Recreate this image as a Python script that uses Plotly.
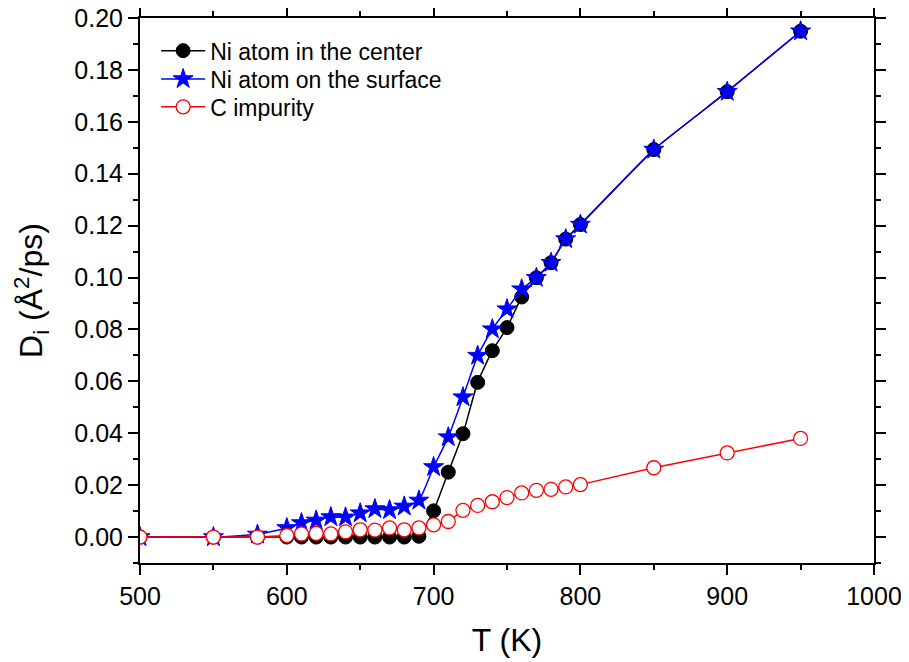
import plotly.graph_objects as go

T = [500, 550, 580, 600, 610, 620, 630, 640, 650, 660, 670, 680, 690, 700,
     710, 720, 730, 740, 750, 760, 770, 780, 790, 800, 850, 900, 950]

ni_center = [0.0, 0.0, 0.0, 0.0, 0.0, 0.0, 0.0, 0.0, 0.0, 0.0, 0.0, 0.0, 0.0003, 0.0101,
             0.0250, 0.0398, 0.0596, 0.0718, 0.0807, 0.0925, 0.0999, 0.1057, 0.1148, 0.1204,
             0.1493, 0.1716, 0.1949]

ni_surface = [0.0, 0.0, 0.001, 0.0035, 0.0054, 0.0064, 0.0077, 0.0076, 0.0092, 0.0108, 0.0104,
              0.0118, 0.0141, 0.0270, 0.0385, 0.0539, 0.0699, 0.0801, 0.0878, 0.0955, 0.0999,
              0.1057, 0.1148, 0.1204, 0.1493, 0.1716, 0.1949]

c_impurity = [0.0, 0.0, 0.0, 0.0006, 0.0012, 0.0014, 0.0012, 0.0020, 0.0028, 0.0027, 0.0035,
              0.0028, 0.0035, 0.0047, 0.0060, 0.0103, 0.0122, 0.0136, 0.0152, 0.0170, 0.0180,
              0.0184, 0.0193, 0.0202, 0.0267, 0.0324, 0.0380]

names = ["Ni atom in the center", "Ni atom on the surface", "C impurity"]

FONT = "Liberation Sans, Arial"

fig = go.Figure()
fig.add_trace(go.Scatter(
    x=T, y=ni_center, name=names[0], mode="lines+markers", legend="legend",
    line=dict(color="black", width=1.5, shape="spline", smoothing=0.4),
    marker=dict(symbol="circle", size=14, color="black", line=dict(color="black", width=1)),
))
fig.add_trace(go.Scatter(
    x=T, y=ni_surface, name=names[1], mode="lines+markers", legend="legend2",
    line=dict(color="blue", width=1.5, shape="spline", smoothing=0.4),
    marker=dict(symbol="star", size=15, color="blue", line=dict(color="blue", width=1)),
))
fig.add_trace(go.Scatter(
    x=T, y=c_impurity, name=names[2], mode="lines+markers", legend="legend3",
    line=dict(color="red", width=1.5),
    marker=dict(symbol="circle", size=14, color="white", line=dict(color="red", width=1.3)),
))

axis_common = dict(
    showline=True, linecolor="black", linewidth=2, mirror="ticks",
    ticks="outside", ticklen=10, tickwidth=2, tickcolor="black",
    showgrid=False, zeroline=False, automargin=False, ticklabeloverflow="allow",
    tickfont=dict(family=FONT, size=25, color="black"),
)

fig.update_xaxes(
    range=[500, 1000], dtick=100, tick0=500,
    minor=dict(dtick=50, ticklen=5, tickwidth=2, ticks="outside", tickcolor="black", showgrid=False),
    title=dict(text="T (K)", font=dict(family=FONT, size=32, color="black"), standoff=20),
    **axis_common,
)
fig.update_yaxes(
    range=[-0.01, 0.2], dtick=0.02, tick0=0, tickformat=".2f",
    minor=dict(dtick=0.01, ticklen=5, tickwidth=2, ticks="outside", tickcolor="black", showgrid=False),
    title=dict(text="D<sub>i</sub> (Å<sup>2</sup>/ps)", font=dict(family=FONT, size=32, color="black"), standoff=22),
    **axis_common,
)

leg_common = dict(
    xanchor="left", yanchor="middle", bgcolor="rgba(0,0,0,0)",
    font=dict(family=FONT, size=23, color="black"), itemwidth=44,
)

fig.update_layout(
    width=909, height=662,
    margin=dict(l=132, r=43, t=10, b=107),
    paper_bgcolor="white", plot_bgcolor="white",
    showlegend=True,
    legend=dict(x=0.022, y=0.94, **leg_common),
    legend2=dict(x=0.022, y=0.888, **leg_common),
    legend3=dict(x=0.022, y=0.837, **leg_common),
)

fig.write_html("out.html")
